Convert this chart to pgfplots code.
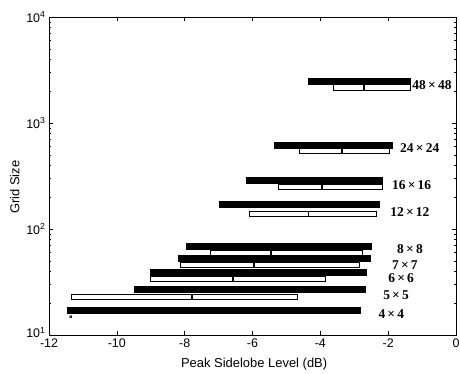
\documentclass[border=0pt]{standalone}
\usepackage{pgfplots}
\pgfplotsset{compat=1.18}
\usepackage{fontspec}
\setmainfont{Liberation Sans}
\newfontfamily\lblfont{Liberation Serif}
\newcommand{\bbar}[3]{\addplot[line width=7bp,black] coordinates {(#1,#3) (#2,#3)};}
\newcommand{\wbar}[3]{\addplot[line width=6.4bp,black] coordinates {(#1,#3) (#2,#3)};
  \addplot[line width=4.4bp,white,shorten <=1bp,shorten >=1bp] coordinates {(#1,#3) (#2,#3)};}
\newcommand{\mbar}[3]{\addplot[line width=1.8bp,black] coordinates {(#1,#2) (#1,#3)};}
\begin{document}
\begin{tikzpicture}
\useasboundingbox (-49bp,-39bp) rectangle (411bp,335bp);
\begin{axis}[
  at={(0,0)}, anchor=south west,
  width=407bp, height=318bp, scale only axis,
  xmin=-12, xmax=0, ymode=log, ymin=10, ymax=10000,
  xtick={-12,-10,-8,-6,-4,-2,0},
  xticklabels={-12,-10,-8,-6,-4,-2,0},
  ytick={10,100,1000,10000},
  yticklabels={\raisebox{4.5bp}{10\textsuperscript{1}},10\textsuperscript{2},10\textsuperscript{3},10\textsuperscript{4}},
  tick label style={font=\fontsize{12.5}{13}\selectfont},
  xticklabel style={yshift=-0.5bp},
  xlabel={Peak Sidelobe Level (dB)}, ylabel={Grid Size},
  label style={font=\fontsize{13}{14}\selectfont},
  xlabel style={at={(axis description cs:0.504,0)}, anchor=center, yshift=-29bp},
  ylabel style={at={(axis description cs:-0.084,0.465)}, anchor=center},
  major tick length=4bp, minor tick length=2bp,
  tick style={black, line width=0.6bp},
  axis line style={line width=0.9bp},
  tick pos=both, tick align=inside,
]
% 48x48
\bbar{-4.35}{-1.33}{2489}
\wbar{-3.63}{-1.33}{2163}
\mbar{-2.71}{2317}{2018}
% 24x24
\bbar{-5.38}{-1.86}{619}
\wbar{-4.62}{-1.96}{544.5}
\mbar{-3.37}{583}{508}
% 16x16
\bbar{-6.19}{-2.14}{289.7}
\wbar{-5.24}{-2.16}{248.9}
\mbar{-3.96}{266.7}{232.3}
% 12x12
\bbar{-7.00}{-2.25}{170.2}
\wbar{-6.11}{-2.34}{139.3}
\mbar{-4.35}{149.3}{130.0}
% 8x8
\bbar{-7.96}{-2.48}{68.4}
\wbar{-7.25}{-2.74}{59.4}
\mbar{-5.45}{63.7}{55.5}
% 7x7
\bbar{-8.20}{-2.51}{53.0}
\wbar{-8.14}{-2.83}{45.7}
\mbar{-5.95}{49.0}{42.7}
% 6x6
\bbar{-9.02}{-2.61}{38.7}
\wbar{-9.02}{-3.83}{33.7}
\mbar{-6.58}{36.1}{31.5}
% 5x5
\bbar{-9.48}{-2.66}{26.9}
\wbar{-11.36}{-4.65}{22.8}
\mbar{-7.79}{24.4}{21.3}
% 4x4
\bbar{-11.46}{-2.81}{17.1}
\addplot[only marks, mark=x, mark size=1.6bp, black, line width=0.8bp] coordinates {(-11.36,14.9)};
% labels
\begin{scope}[every node/.style={anchor=west, inner sep=0pt, font=\lblfont\bfseries\fontsize{13.5}{14}\selectfont}]
\node at (axis cs:-1.29,2280) {48\,×\,48};
\node at (axis cs:-1.65,581) {24\,×\,24};
\node at (axis cs:-1.89,260) {16\,×\,16};
\node at (axis cs:-1.94,144.5) {12\,×\,12};
\node at (axis cs:-1.74,64.7) {8\,×\,8};
\node at (axis cs:-1.89,45.7) {7\,×\,7};
\node at (axis cs:-2.0,34.5) {6\,×\,6};
\node at (axis cs:-2.15,23.8) {5\,×\,5};
\node at (axis cs:-2.29,15.8) {4\,×\,4};
\end{scope}
\end{axis}
\end{tikzpicture}
\end{document}
